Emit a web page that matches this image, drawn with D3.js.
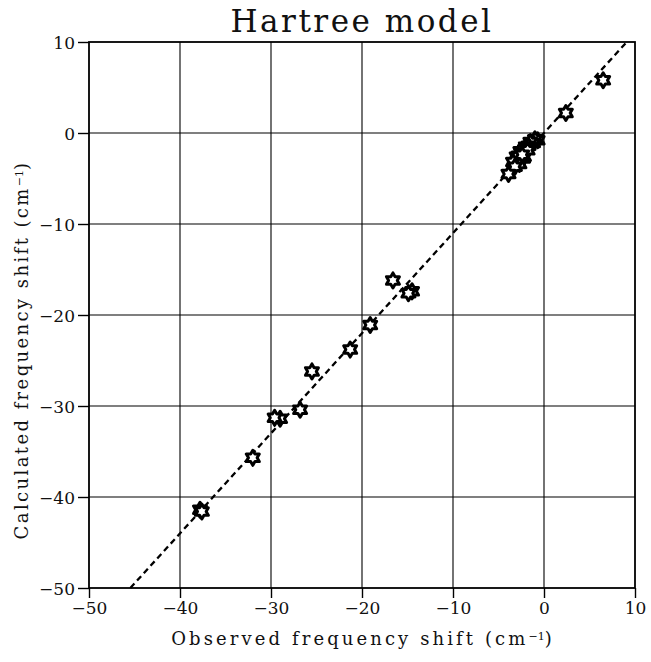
<!DOCTYPE html>
<html>
<head>
<meta charset="utf-8">
<script src="https://cdn.jsdelivr.net/npm/d3@7"></script>
<style>
  body { margin: 0; background: #fff; }
  svg text { font-family: "DejaVu Serif", "Liberation Serif", serif; fill: #111; }
</style>
</head>
<body>
<svg id="chart" width="651" height="662"></svg>
<script>
// observed vs calculated frequency shifts (cm^-1)
const observed = [6.5, 2.4, -0.7, -1.0, -1.2, -1.5, -1.7, -2.0, -2.1, -2.5, -2.6, -2.8, -2.3, -2.2,
  -2.9, -3.0, -2.7, -3.4, -3.2, -3.9, -1.8, -2.4,
  -16.6, -14.5, -14.9, -19.1, -21.3, -25.5, -26.8, -29.0, -29.6, -32.0, -37.8, -37.6];
const calculated = [5.8, 2.2, -0.8, -0.7, -1.1, -1.0, -1.4, -1.5, -1.8, -2.2, -2.0, -2.5, -2.8, -2.6,
  -3.0, -2.6, -3.4, -3.2, -3.7, -4.5, -1.9, -2.4,
  -16.2, -17.4, -17.6, -21.1, -23.8, -26.2, -30.4, -31.4, -31.3, -35.7, -41.4, -41.6];
const xTicks = [-50, -40, -30, -20, -10, 0, 10];
const yTicks = [-50, -40, -30, -20, -10, 0, 10];
const fitSlope = 1.1;   // dashed line y = 1.1 x

const svg = d3.select('#chart');
const margin = {left: 89, right: 16, top: 42, bottom: 74};
const W = 651, H = 662;

const x = d3.scaleLinear().domain([-50, 10]).range([margin.left, W - margin.right]);
const y = d3.scaleLinear().domain([-50, 10]).range([H - margin.bottom, margin.top]);

const fmt = d => (d < 0 ? '\u2212' + Math.abs(d) : '' + d);

// grid
svg.append('g')
  .selectAll('line')
  .data(xTicks.slice(1, -1))
  .enter().append('line')
    .attr('x1', d => x(d)).attr('x2', d => x(d))
    .attr('y1', y(10)).attr('y2', y(-50))
    .attr('stroke', '#000').attr('stroke-width', 1.1);

svg.append('g')
  .selectAll('line')
  .data(yTicks.slice(1, -1))
  .enter().append('line')
    .attr('y1', d => y(d)).attr('y2', d => y(d))
    .attr('x1', x(-50)).attr('x2', x(10))
    .attr('stroke', '#000').attr('stroke-width', 1.1);

// axes
const xAxis = svg.append('g')
  .attr('transform', `translate(0,${y(-50)})`)
  .call(d3.axisBottom(x).tickValues(xTicks).tickFormat(fmt).tickSizeInner(10).tickSizeOuter(0).tickPadding(4));
const yAxis = svg.append('g')
  .attr('transform', `translate(${x(-50)},0)`)
  .call(d3.axisLeft(y).tickValues(yTicks).tickFormat(fmt).tickSizeInner(11).tickSizeOuter(0).tickPadding(3));

[xAxis, yAxis].forEach(g => {
  g.select('.domain').remove();
  g.selectAll('line').attr('stroke', '#000').attr('stroke-width', 1.4);
  g.selectAll('text').attr('font-size', 17).attr('fill', '#111')
    .style('font-family', '"DejaVu Serif", serif');
});
yAxis.selectAll('text').attr('dy', '0.36em');

// frame
svg.append('rect')
  .attr('x', x(-50)).attr('y', y(10))
  .attr('width', x(10) - x(-50)).attr('height', y(-50) - y(10))
  .attr('fill', 'none').attr('stroke', '#000').attr('stroke-width', 1.8);

// dashed fit line
const xLo = -50 / fitSlope, xHi = 10 / fitSlope;
svg.append('line')
  .attr('x1', x(xLo)).attr('y1', y(fitSlope * xLo))
  .attr('x2', x(xHi)).attr('y2', y(fitSlope * xHi))
  .attr('stroke', '#000').attr('stroke-width', 2.3)
  .attr('stroke-dasharray', '6,4');

// hexagram markers
function hexagram(r) {
  const pts = [];
  for (let i = 0; i < 12; i++) {
    const a = Math.PI / 6 * i - Math.PI / 2;
    const rr = i % 2 === 0 ? r : r / Math.sqrt(3);
    pts.push([rr * Math.cos(a), rr * Math.sin(a)]);
  }
  return 'M' + pts.map(p => p.join(',')).join('L') + 'Z';
}
const starPath = hexagram(7.5);

svg.append('g')
  .selectAll('path')
  .data(observed.map((o, i) => ({o, c: calculated[i]})))
  .enter().append('path')
    .attr('d', starPath)
    .attr('transform', d => `translate(${x(d.o)},${y(d.c)})`)
    .attr('fill', '#fff')
    .attr('stroke', '#000')
    .attr('stroke-width', 3)
    .attr('stroke-linejoin', 'round');

// title
svg.append('text')
  .attr('x', 362).attr('y', 32)
  .attr('text-anchor', 'middle')
  .attr('font-size', 31)
  .attr('letter-spacing', 2.5)
  .text('Hartree model');

// axis titles
const xt = svg.append('text')
  .attr('x', 363).attr('y', 645)
  .attr('text-anchor', 'middle')
  .attr('font-size', 18)
  .attr('letter-spacing', 3.1)
  .text('Observed frequency shift (cm');
xt.append('tspan').attr('baseline-shift', '45%').attr('font-size', 11).attr('letter-spacing', 0).text('\u22121');
xt.append('tspan').text(')');

const yt = svg.append('text')
  .attr('transform', 'translate(28,350) rotate(-90)')
  .attr('text-anchor', 'middle')
  .attr('font-size', 18)
  .attr('letter-spacing', 2.4)
  .text('Calculated frequency shift (cm');
yt.append('tspan').attr('baseline-shift', '45%').attr('font-size', 11).attr('letter-spacing', 0).text('\u22121');
yt.append('tspan').text(')');
</script>
</body>
</html>
